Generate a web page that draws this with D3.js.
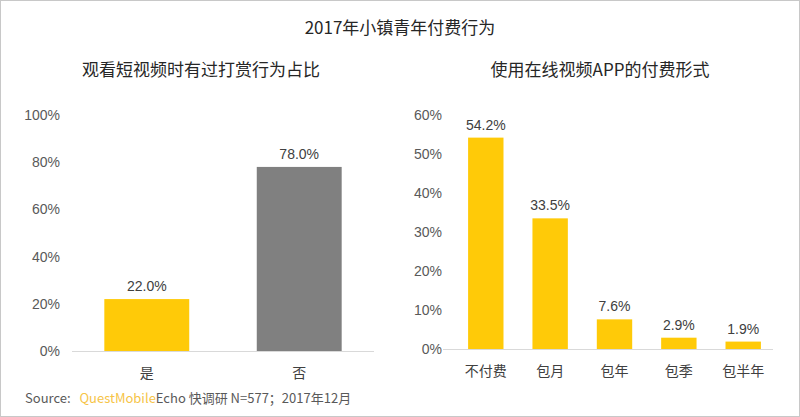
<!DOCTYPE html>
<html><head><meta charset="utf-8">
<script src="https://cdn.jsdelivr.net/npm/d3@7"></script>
<style>body{margin:0;background:#fff}svg{display:block}</style>
</head><body>
<script>
const leftCats = ["是","否"];
const leftVals = [22.0, 78.0];
const leftTicks = [0,20,40,60,80,100];
const rightCats = ["不付费","包月","包年","包季","包半年"];
const rightVals = [54.2, 33.5, 7.6, 2.9, 1.9];
const rightTicks = [0,10,20,30,40,50,60];

const W=800,H=417;
const svg=d3.select("body").append("svg").attr("width",W).attr("height",H);
svg.append("rect").attr("x",0.5).attr("y",0.5).attr("width",W-1).attr("height",H-1).attr("fill","#fff").attr("stroke","#c8c8c8");
const cjk="'Noto Sans CJK SC','Noto Sans',sans-serif";
const num="'Liberation Sans',Arial,sans-serif";

svg.append("text").attr("x",400).attr("y",34).attr("text-anchor","middle").attr("font-family",cjk).attr("font-size",17).attr("fill","#262626").text("2017年小镇青年付费行为");
svg.append("text").attr("x",201).attr("y",76).attr("text-anchor","middle").attr("font-family",cjk).attr("font-size",17).attr("fill","#262626").text("观看短视频时有过打赏行为占比");
svg.append("text").attr("x",600).attr("y",76).attr("text-anchor","middle").attr("font-family",cjk).attr("font-size",17).attr("fill","#262626").text("使用在线视频APP的付费形式");

function chart(cats, vals, ticks, ax0, ax1, bx0, bx1, y0, y1, ymax, colors, padInner, padOuter, labelX){
  const x=d3.scaleBand().domain(cats).range([bx0,bx1]).paddingInner(padInner).paddingOuter(padOuter);
  const y=d3.scaleLinear().domain([0,ymax]).range([y0,y1]);
  const g=svg.append("g");
  g.selectAll(".yt").data(ticks).enter().append("text")
    .attr("x",labelX).attr("y",d=>y(d)+5).attr("text-anchor","end")
    .attr("font-family",num).attr("font-size",14).attr("fill","#595959").text(d=>d+"%");
  g.append("line").attr("x1",ax0).attr("x2",ax1).attr("y1",y(0)+0.5).attr("y2",y(0)+0.5).attr("stroke","#d9d9d9").attr("stroke-width",1);
  g.selectAll(".bar").data(vals).enter().append("rect")
    .attr("x",(d,i)=>x(cats[i])).attr("width",x.bandwidth())
    .attr("y",d=>y(d)).attr("height",d=>y(0)-y(d)).attr("fill",(d,i)=>colors[i]);
  g.selectAll(".vl").data(vals).enter().append("text")
    .attr("x",(d,i)=>x(cats[i])+x.bandwidth()/2).attr("y",d=>y(d)-8).attr("text-anchor","middle")
    .attr("font-family",num).attr("font-size",14).attr("fill","#404040").text(d=>d.toFixed(1)+"%");
  g.selectAll(".xl").data(cats).enter().append("text")
    .attr("x",d=>x(d)+x.bandwidth()/2).attr("y",y(0)+27).attr("text-anchor","middle")
    .attr("font-family",cjk).attr("font-size",14).attr("fill","#404040").text(d=>d);
}
chart(leftCats,leftVals,leftTicks,72,374,72,374,351,115,100,["#FFCA08","#808080"],0.443,0.212,60);
chart(rightCats,rightVals,rightTicks,443,773,443,786,349,115,60,["#FFCA08","#FFCA08","#FFCA08","#FFCA08","#FFCA08"],0.45,0.39,442);

const src=svg.append("text").attr("x",25).attr("y",403).attr("font-family",cjk).attr("font-size",13).attr("fill","#595959");
src.append("tspan").text("Source:  ");
src.append("tspan").attr("dx",6).attr("fill","#F6C447").text("QuestMobile");
src.append("tspan").text("Echo 快调研 N=577；2017年12月");
</script>
</body></html>
